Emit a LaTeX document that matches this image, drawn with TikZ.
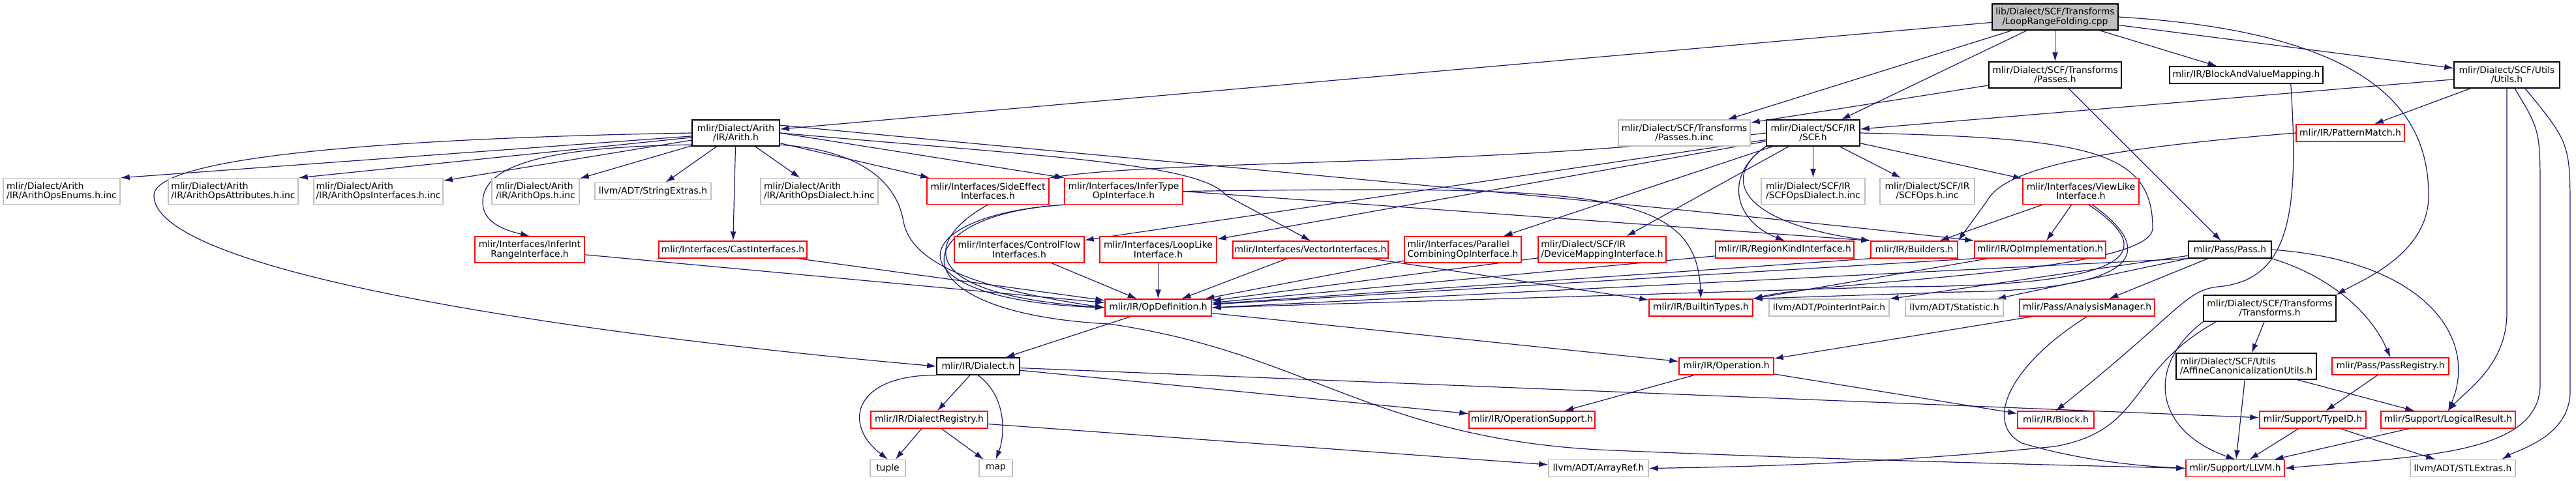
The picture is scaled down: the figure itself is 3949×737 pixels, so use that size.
\documentclass[tikz,border=0pt]{standalone}
\usepackage{fontspec}
\setmainfont{DejaVu Sans}
\usetikzlibrary{arrows.meta,backgrounds}
\definecolor{midnight}{HTML}{191970}
\definecolor{grey75}{HTML}{BFBFBF}
\newcommand{\doxfont}{\fontsize{13.9}{14.6}\selectfont}
\tikzset{
  file/.style={draw, fill=white, line width=1.4pt, inner sep=0pt, align=center, minimum height=26pt, font=\doxfont},
  two/.style={minimum height=40pt},
  lft/.style={align=left},
  trunc/.style={file, draw=red},
  ext/.style={file, draw=grey75},
  full/.style={file, draw=black},
  dep/.style={->, draw=midnight, line width=1.2pt}
}
\begin{document}
\begin{tikzpicture}[x=1pt, y=-1pt, >={Latex[length=14pt,width=9pt]}]
\useasboundingbox (0,0) rectangle (3949,737);
% Các nút
\node[full, two, fill=grey75, minimum width=193pt] (root) at (3150.5,26) {lib/Dialect/SCF/Transforms\\/LoopRangeFolding.cpp};

\node[full, two, minimum width=203pt] (scfpasses) at (3150.5,115) {mlir/Dialect/SCF/Transforms\\/Passes.h};
\node[full, minimum width=235pt] (bvmap) at (3443.5,115) {mlir/IR/BlockAndValueMapping.h};
\node[full, two, minimum width=162pt] (scfutils) at (3843,115) {mlir/Dialect/SCF/Utils\\/Utils.h};

\node[full, two, minimum width=134pt] (arith) at (1128,204) {mlir/Dialect/Arith\\/IR/Arith.h};
\node[ext, two, minimum width=202pt] (passesinc) at (2582,204) {mlir/Dialect/SCF/Transforms\\/Passes.h.inc};
\node[full, two, minimum width=143pt] (scf) at (2779.5,204) {mlir/Dialect/SCF/IR\\/SCF.h};
\node[trunc, minimum width=166pt] (patmatch) at (3603,204) {mlir/IR/PatternMatch.h};

\node[ext, two, lft, minimum width=179pt] (enumsinc) at (94.5,293.5) {mlir/Dialect/Arith\\/IR/ArithOpsEnums.h.inc};
\node[ext, two, lft, minimum width=199pt] (attrsinc) at (357.5,293.5) {mlir/Dialect/Arith\\/IR/ArithOpsAttributes.h.inc};
\node[ext, two, lft, minimum width=198pt] (ifacesinc) at (580,293.5) {mlir/Dialect/Arith\\/IR/ArithOpsInterfaces.h.inc};
\node[ext, two, lft, minimum width=134pt] (arithopsinc) at (821,293.5) {mlir/Dialect/Arith\\/IR/ArithOps.h.inc};
\node[ext, minimum width=178pt] (strextras) at (1001,293.5) {llvm/ADT/StringExtras.h};
\node[ext, two, lft, minimum width=180pt] (arithdialinc) at (1256,293.5) {mlir/Dialect/Arith\\/IR/ArithOpsDialect.h.inc};
\node[trunc, two, minimum width=187pt] (sideeffect) at (1514.5,293.5) {mlir/Interfaces/SideEffect\\Interfaces.h};
\node[trunc, two, minimum width=181pt] (infertype) at (1722.5,293.5) {mlir/Interfaces/InferType\\OpInterface.h};
\node[ext, two, lft, minimum width=159pt] (scfdialinc) at (2779.5,293.5) {mlir/Dialect/SCF/IR\\/SCFOpsDialect.h.inc};
\node[ext, two, minimum width=145pt] (scfopsinc) at (2954.5,293.5) {mlir/Dialect/SCF/IR\\/SCFOps.h.inc};
\node[trunc, two, minimum width=178pt] (viewlike) at (3190,293.5) {mlir/Interfaces/ViewLike\\Interface.h};

\node[trunc, two, minimum width=168pt] (inferint) at (812,383) {mlir/Interfaces/InferInt\\RangeInterface.h};
\node[trunc, minimum width=227pt] (castif) at (1123.5,383) {mlir/Interfaces/CastInterfaces.h};
\node[trunc, two, minimum width=199pt] (ctrlflow) at (1562.5,383) {mlir/Interfaces/ControlFlow\\Interfaces.h};
\node[trunc, two, minimum width=179pt] (looplike) at (1775.5,383) {mlir/Interfaces/LoopLike\\Interface.h};
\node[trunc, minimum width=238pt] (vectorif) at (2009,383) {mlir/Interfaces/VectorInterfaces.h};
\node[trunc, two, lft, minimum width=179pt] (parcomb) at (2242.5,383) {mlir/Interfaces/Parallel\\CombiningOpInterface.h};
\node[trunc, two, lft, minimum width=196pt] (devmap) at (2456,383) {mlir/Dialect/SCF/IR\\/DeviceMappingInterface.h};
\node[trunc, minimum width=212pt] (regionkind) at (2736,383) {mlir/IR/RegionKindInterface.h};
\node[trunc, minimum width=133pt] (builders) at (2934.5,383) {mlir/IR/Builders.h};
\node[trunc, minimum width=201pt] (opimpl) at (3127.5,383) {mlir/IR/OpImplementation.h};
\node[full, minimum width=127pt] (pass) at (3418.5,383) {mlir/Pass/Pass.h};

\node[trunc, minimum width=163pt] (opdef) at (1775.5,472) {mlir/IR/OpDefinition.h};
\node[trunc, minimum width=159pt] (builtintypes) at (2607.5,472) {mlir/IR/BuiltinTypes.h};
\node[ext, minimum width=184pt] (ptrintpair) at (2804,472) {llvm/ADT/PointerIntPair.h};
\node[ext, minimum width=150pt] (statistic) at (2996,472) {llvm/ADT/Statistic.h};
\node[trunc, minimum width=207pt] (analysis) at (3199.5,472) {mlir/Pass/AnalysisManager.h};
\node[full, two, minimum width=203pt] (scftransforms) at (3479.5,473) {mlir/Dialect/SCF/Transforms\\/Transforms.h};

\node[full, minimum width=127pt] (dialect) at (1499.5,562) {mlir/IR/Dialect.h};
\node[trunc, minimum width=145pt] (operation) at (2646.5,562) {mlir/IR/Operation.h};
\node[full, two, lft, minimum width=215pt] (affine) at (3443.5,562) {mlir/Dialect/SCF/Utils\\/AffineCanonicalizationUtils.h};
\node[trunc, minimum width=179pt] (passreg) at (3664.5,562) {mlir/Pass/PassRegistry.h};

\node[trunc, minimum width=179pt] (dialreg) at (1424.5,644) {mlir/IR/DialectRegistry.h};
\node[trunc, minimum width=193pt] (opsupport) at (2348.5,644) {mlir/IR/OperationSupport.h};
\node[trunc, minimum width=117pt] (block) at (3151.5,644) {mlir/IR/Block.h};
\node[trunc, minimum width=163pt] (typeid) at (3545.5,644) {mlir/Support/TypeID.h};
\node[trunc, minimum width=206pt] (logical) at (3753,644) {mlir/Support/LogicalResult.h};

\node[ext, minimum width=54pt] (tuple) at (1361,718.5) {tuple};
\node[ext, minimum width=51pt] (map) at (1526.5,718.5) {map};
\node[ext, minimum width=153pt] (arrayref) at (2450.5,718.5) {llvm/ADT/ArrayRef.h};
\node[trunc, minimum width=151pt] (llvm) at (3426.5,718.5) {mlir/Support/LLVM.h};
\node[ext, minimum width=161pt] (stlextras) at (3775.5,718.5) {llvm/ADT/STLExtras.h};

\begin{scope}[on background layer]
\fill[white] (0,0) rectangle (3949,737);
% Các mũi tên thẳng
\foreach \a/\b in {root/arith, root/passesinc, root/scf, root/scfpasses, root/bvmap, root/scfutils,
    scfpasses/passesinc, scfpasses/pass, scfutils/scf, scfutils/patmatch,
    scf/scfdialinc, scf/scfopsinc, scf/viewlike, scf/devmap, scf/parcomb, scf/looplike, scf/ctrlflow,
    arith/ifacesinc, arith/arithopsinc, arith/strextras, arith/castif, arith/arithdialinc, arith/sideeffect,
    inferint/opdef, castif/opdef, ctrlflow/opdef, looplike/opdef, vectorif/opdef, parcomb/opdef, devmap/opdef, regionkind/opdef,
    vectorif/builtintypes, opimpl/builtintypes, viewlike/builders, viewlike/opimpl,
    pass/ptrintpair, pass/statistic, pass/analysis, analysis/operation,
    scftransforms/affine, affine/llvm, affine/logical, passreg/typeid, typeid/llvm, typeid/stlextras, logical/llvm,
    operation/opsupport, operation/block, opdef/dialect, opdef/operation,
    dialect/dialreg, dialect/opsupport, dialect/typeid, dialreg/tuple, dialreg/map, dialreg/arrayref}
    \draw[dep] (\a) -- (\b);
\draw[dep] (arith) -- (enumsinc.north east);
\draw[dep] (arith) -- (attrsinc.north east);
\draw[dep] (arith.east) -- (infertype.north west);
\draw[dep] (infertype.east) -- (builders.north west);
\draw[dep] (builders.south west) -- (opdef);
\draw[dep] (opimpl.south west) -- (opdef);
\draw[dep] (pass.south west) -- (opdef.east);

% Các mũi tên cong
\draw[dep] (arith.west) .. controls (600,212) and (236,240) .. (236,300) .. controls (236,420) and (900,515) .. (dialect.west);
\draw[dep] (arith.195) .. controls (850,225) and (740,250) .. (740,310) .. controls (740,335) and (760,350) .. (inferint.north);
\draw[dep] (arith.345) .. controls (1320,230) and (1375,280) .. (1385,340) .. controls (1400,420) and (1550,450) .. (opdef.west);
\draw[dep] (arith.east) .. controls (1600,240) and (1840,250) .. (1880,300) -- (vectorif.north);
\draw[dep] (arith.10) .. controls (1800,250) and (2600,320) .. (opimpl.north west);

\draw[dep] (scf.west) .. controls (2300,255) and (1800,245) .. (sideeffect.north east);
\draw[dep] (scf.south west) .. controls (2640,270) and (2660,340) .. (regionkind.north);
\draw[dep] (scf.south west) .. controls (2640,270) and (2660,340) .. (builders.north west);
\draw[dep] (scf.east) .. controls (3200,212) and (3300,230) .. (3300,350) .. controls (3300,420) and (2800,430) .. (builtintypes.north east);

\draw[dep] (infertype.south west) .. controls (1380,330) and (1360,460) .. (opdef.west);
\draw[dep] (sideeffect.south) .. controls (1430,360) and (1380,450) .. (opdef.west);
\draw[dep] (infertype.south west) .. controls (1380,330) and (1370,480) .. (1700,497) .. controls (2000,540) and (2100,670) .. (2450,690) .. controls (2800,705) and (3100,712) .. (llvm.west);
\draw[dep] (infertype.east) .. controls (2450,285) and (2600,290) .. (builtintypes.north);

\draw[dep] (viewlike.300) .. controls (3300,380) and (3300,440) .. (2900,440) -- (opdef.east);
\draw[dep] (viewlike.310) .. controls (3300,380) and (3300,445) .. (3000,448) -- (builtintypes.north east);

\draw[dep] (pass.south east) .. controls (3560,420) and (3630,470) .. (passreg.north);
\draw[dep] (pass.east) .. controls (3720,400) and (3800,520) .. (logical.north);

\draw[dep] (analysis.south) .. controls (3080,560) and (3040,650) .. (3100,680) .. controls (3200,710) and (3300,716) .. (llvm.west);
\draw[dep] (scftransforms.south west) .. controls (3290,560) and (3300,660) .. (llvm.north);
\draw[dep] ([xshift=20pt]scftransforms.south west) .. controls (3260,570) and (3290,660) .. (3150,685) .. controls (2900,710) and (2700,716) .. (arrayref.east);

\draw[dep] (root.east) .. controls (3650,50) and (3723,180) .. (3723,300) .. controls (3723,390) and (3620,430) .. (scftransforms.north east);
\draw[dep] ([xshift=-50pt]bvmap.south east) .. controls (3525,330) and (3510,430) .. (3400,440) .. controls (3350,445) and (3340,480) .. (block.north);
\draw[dep] (patmatch.west) .. controls (3200,230) and (3070,260) .. (3045,310) -- (builders.north east);
\draw[dep] (scfutils.south) -- (3843,480) .. controls (3843,560) and (3780,600) .. (logical.north);
\draw[dep] ([xshift=12pt]scfutils.south) .. controls (3894,200) .. (3894,300) -- (3894,590) .. controls (3894,700) and (3700,700) .. (llvm.east);
\draw[dep] ([xshift=28pt]scfutils.south) .. controls (3940,220) .. (3940,330) -- (3940,600) .. controls (3940,670) and (3860,690) .. ([xshift=60pt]stlextras.north);

\draw[dep] (dialect.south west) .. controls (1310,575) and (1290,650) .. (tuple.north);
\draw[dep] (dialect.south) .. controls (1545,610) and (1540,670) .. (map.north);
\end{scope}
\end{tikzpicture}
\end{document}
